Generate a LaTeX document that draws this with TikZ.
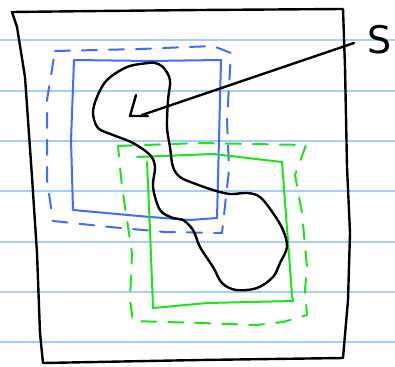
\documentclass[tikz,border=0pt]{standalone}
\usepackage{fontspec}
\setsansfont{DejaVu Sans}
\definecolor{paperline}{RGB}{165,205,255}
\definecolor{penblue}{RGB}{60,110,255}
\definecolor{pengreen}{RGB}{25,230,25}
\begin{document}
\begin{tikzpicture}[x=1pt,y=-1pt,
  rule/.style={paperline,line width=2pt},
  ink/.style={black,line width=2.4pt,line join=round,line cap=round},
  bluepen/.style={penblue,line width=2pt,line join=round,line cap=round},
  greenpen/.style={pengreen,line width=2pt,line join=round,line cap=round},
  dashpen/.style={dash pattern=on 15pt off 12pt},
  label/.style={font=\sffamily\fontsize{38}{38}\selectfont,inner sep=0pt}]
\useasboundingbox[fill=white] (0,0) rectangle (395,366);
% ruled paper
\foreach \yy in {40.5,90.7,141,191.2,241.5,291.7,342}
  \draw[rule] (0,\yy) -- (395,\yy);
% outer frame
\draw[ink] (12,12) -- (100,11) -- (200,10) -- (343,9)
  -- (345,67) -- (347,167) -- (350,233) -- (348,300) -- (343,358)
  -- (200,360) -- (43,363)
  -- (40,333) -- (37,253) -- (32,177) -- (25,77) -- (17,27) -- cycle;
% blue rectangles
\draw[bluepen,dashpen] (55,51) -- (140,49) -- (213,46) -- (231,53) -- (227,120)
  -- (229,170) -- (222,233) -- (165,232) -- (110,227) -- (53,221)
  -- (47,180) -- (47,100) -- cycle;
\draw[bluepen] (74,60) -- (150,61) -- (221,60) -- (219,140) -- (217,218)
  -- (190,220) -- (150,217) -- (73,210) -- (71,140) -- cycle;
% green rectangles
\draw[greenpen,dashpen] (118,146) -- (200,143) -- (306,145) -- (295,175)
  -- (302,213) -- (307,267) -- (305,290) -- (307,315) -- (283,322)
  -- (257,325) -- (200,323) -- (133,321) -- (130,300) -- (132,253)
  -- (127,220) -- (122,187) -- cycle;
\draw[greenpen] (137,157) -- (213,154) -- (282,162) -- (292,295) -- (293,301)
  -- (207,303) -- (153,308) -- (150,230) -- (147,162);
% blob
\draw[ink] plot[smooth cycle,tension=0.55] coordinates {
  (148,63) (127,67) (107,80) (97,97) (93,113) (98,128) (113,135) (133,143)
  (150,155) (155,167) (153,187) (160,210) (173,218) (183,220) (193,230)
  (200,247) (213,267) (222,283) (236,290) (257,288) (273,277) (280,263)
  (287,247) (283,230) (273,213) (260,197) (247,193) (230,194) (213,190)
  (193,183) (180,177) (173,167) (170,147) (167,127) (168,100) (170,80)
  (163,67) (155,63)};
% little L mark
\draw[ink] (136,95) -- (130,116) -- (148,116);
% label and pointer
\node[label] (S) at (380,40) {S};
\coordinate (start) at (354,43);
\coordinate (tip) at (142,115);
\draw[ink] (start) -- (tip);
\end{tikzpicture}
\end{document}
